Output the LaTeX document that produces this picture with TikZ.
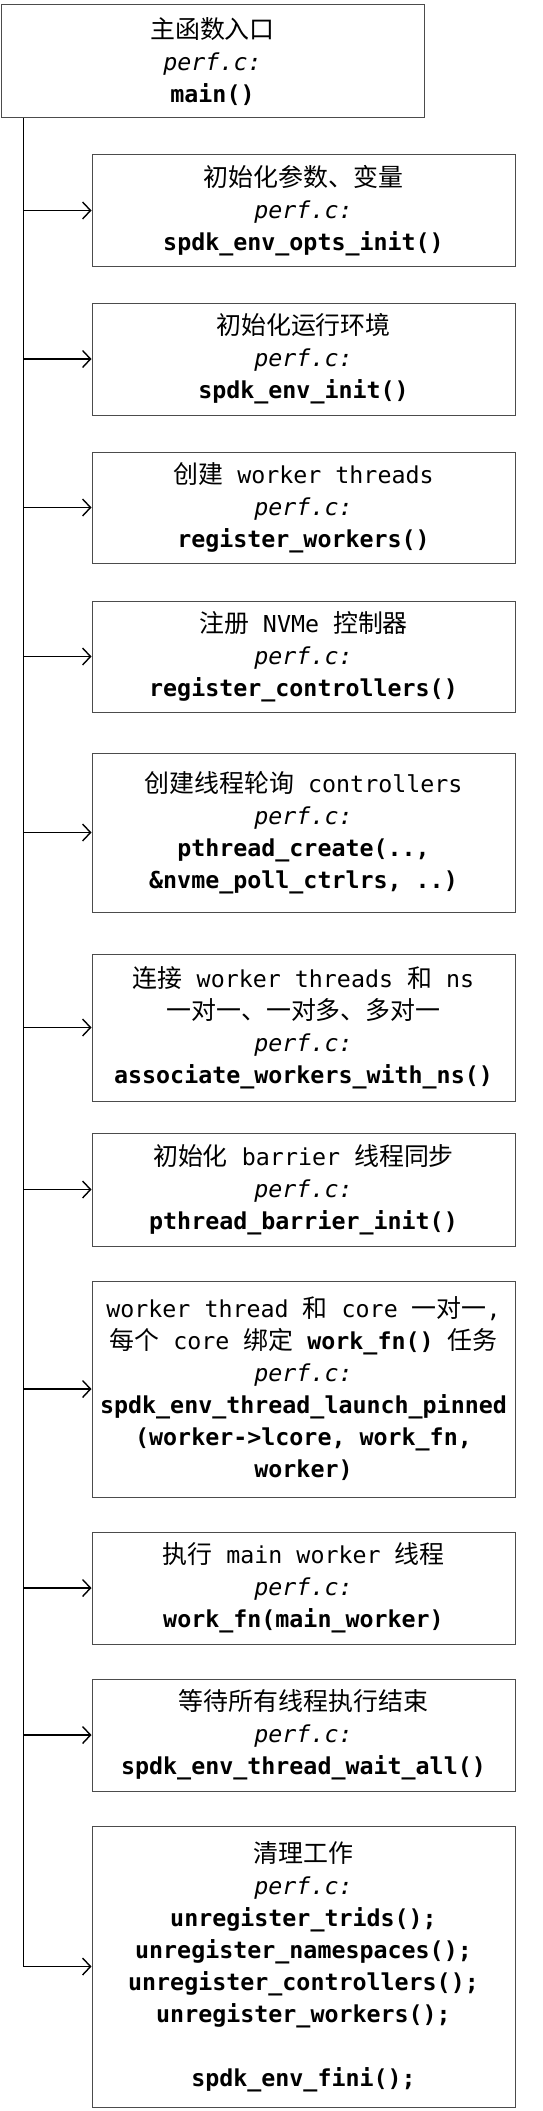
\documentclass[tikz,border=0pt]{standalone}
\usepackage{fontspec}
\setmainfont{DejaVu Sans Mono}
\setmonofont{DejaVu Sans Mono}
\newfontfamily\cjk[Scale=1.07]{Noto Sans CJK SC}
\newcommand\zh[1]{{\cjk #1}}
\usetikzlibrary{arrows.meta,calc}
\begin{document}
\begin{tikzpicture}[x=1pt,y=-1pt,
  box/.style={draw=black!70, line width=1pt, minimum width=423pt, inner sep=0pt,
    align=center, font=\fontsize{23.3}{32}\selectfont},
  arr/.style={draw=black, line width=1.4pt, -{Straight Barb[length=8pt,width=17pt,line width=1.4pt]}},
  spine/.style={draw=black, line width=1.4pt}]
\useasboundingbox (0,0) rectangle (542,2111);
\node[box, minimum height=113pt] (main) at (212.5,61.5)
  {\zh{主函数入口}\\ \textit{perf.c:}\\ \textbf{main()}};
\node[box, minimum height=111pt] (b1) at (303.5,210.5)
  {\zh{初始化参数、变量}\\ \textit{perf.c:}\\ \textbf{spdk\_env\_opts\_init()}};
\node[box, minimum height=112pt] (b2) at (303.5,359)
  {\zh{初始化运行环境}\\ \textit{perf.c:}\\ \textbf{spdk\_env\_init()}};
\node[box, minimum height=111pt] (b3) at (303.5,507.5)
  {\zh{创建} worker threads\\ \textit{perf.c:}\\ \textbf{register\_workers()}};
\node[box, minimum height=111pt] (b4) at (303.5,656.5)
  {\zh{注册} NVMe \zh{控制器}\\ \textit{perf.c:}\\ \textbf{register\_controllers()}};
\node[box, minimum height=159pt] (b5) at (303.5,832.5)
  {\zh{创建线程轮询} controllers\\ \textit{perf.c:}\\ \textbf{pthread\_create(..,}\\ \textbf{\&nvme\_poll\_ctrlrs, ..)}};
\node[box, minimum height=147pt] (b6) at (303.5,1027.5)
  {\zh{连接} worker threads \zh{和} ns\\ \zh{一对一、一对多、多对一}\\ \textit{perf.c:}\\ \textbf{associate\_workers\_with\_ns()}};
\node[box, minimum height=113pt] (b7) at (303.5,1189.5)
  {\zh{初始化} barrier \zh{线程同步}\\ \textit{perf.c:}\\ \textbf{pthread\_barrier\_init()}};
\node[box, minimum height=216pt] (b8) at (303.5,1389)
  {worker thread \zh{和} core \zh{一对一},\\ \zh{每个} core \zh{绑定} \textbf{work\_fn()} \zh{任务}\\ \textit{perf.c:}\\ \textbf{spdk\_env\_thread\_launch\_pinned}\\ \textbf{(worker->lcore, work\_fn,}\\ \textbf{worker)}};
\node[box, minimum height=112pt] (b9) at (303.5,1588)
  {\zh{执行} main worker \zh{线程}\\ \textit{perf.c:}\\ \textbf{work\_fn(main\_worker)}};
\node[box, minimum height=112pt] (b10) at (303.5,1735)
  {\zh{等待所有线程执行结束}\\ \textit{perf.c:}\\ \textbf{spdk\_env\_thread\_wait\_all()}};
\node[box, minimum height=281pt] (b11) at (303.5,1966.5)
  {\zh{清理工作}\\ \textit{perf.c:}\\ \textbf{unregister\_trids();}\\ \textbf{unregister\_namespaces();}\\ \textbf{unregister\_controllers();}\\ \textbf{unregister\_workers();}\\[32pt] \textbf{spdk\_env\_fini();}};
\coordinate (sp) at ([xshift=23pt]main.south west);
\draw[spine] (sp) -- (sp |- b11.west);
\foreach \b in {b1,b2,b3,b4,b5,b6,b7,b8,b9,b10,b11}
  \draw[arr] (sp |- \b.west) -- (\b.west);
\end{tikzpicture}
\end{document}
